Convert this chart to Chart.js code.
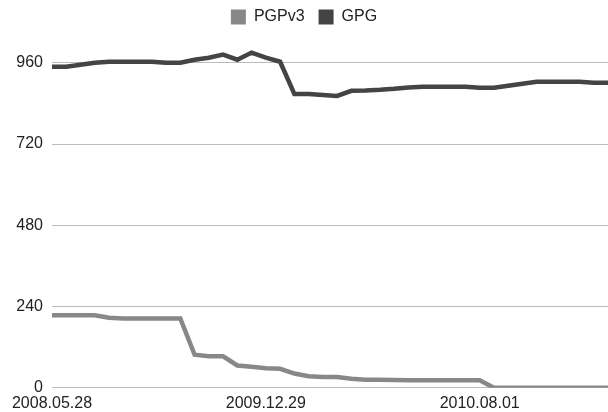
<!DOCTYPE html>
<html>
<head>
<meta charset="utf-8">
<script src="https://cdn.jsdelivr.net/npm/chart.js@4"></script>
<style>
  html, body { margin: 0; padding: 0; background: #fff; }
  #wrap { width: 608px; height: 412px; }
</style>
</head>
<body>
<div id="wrap"><canvas id="chart" width="608" height="412"></canvas></div>
<script>
// tick labels shown under the x axis, every 15th sample
const tickLabels = ['2008.05.28', '2009.12.29', '2010.08.01'];
const tickEvery = 15;
const pointCount = 40;

const pgpv3 = [214, 214, 214, 214, 207, 205, 205, 205, 205, 205,
  98, 93, 93, 66, 62, 58, 56, 42, 34, 32,
  32, 27, 24, 24, 23, 22, 22, 22, 22, 22,
  22, 0, 0, 0, 0, 0, 0, 0, 0, 0];
const gpg = [948, 948, 954, 960, 963, 963, 963, 963, 960, 960,
  969, 975, 984, 969, 990, 975, 963, 868, 868, 865,
  862, 877, 878, 880, 883, 887, 889, 889, 889, 889,
  886, 886, 892, 898, 904, 904, 904, 904, 901, 901];

const yTicks = [0, 240, 480, 720, 960];

// categories: dated ones where the chart shows a label
const categories = [];
for (let i = 0; i < pointCount; i++) {
  categories.push(i % tickEvery === 0 ? tickLabels[i / tickEvery] : '');
}

Chart.defaults.font.family = '"Liberation Sans", Arial, sans-serif';
Chart.defaults.font.size = 16;
Chart.defaults.color = '#222';

new Chart(document.getElementById('chart'), {
  type: 'line',
  data: {
    labels: categories,
    datasets: [{
      label: 'PGPv3',
      data: pgpv3,
      borderColor: '#888888',
      backgroundColor: '#888888',
      borderWidth: 4.5,
      pointRadius: 0,
      tension: 0
    }, {
      label: 'GPG',
      data: gpg,
      borderColor: '#444444',
      backgroundColor: '#444444',
      borderWidth: 4.5,
      pointRadius: 0,
      tension: 0
    }]
  },
  options: {
    responsive: false,
    animation: false,
    layout: {
      padding: { top: -5, bottom: -7, left: 0, right: 0 }
    },
    plugins: {
      tooltip: { enabled: false },
      legend: {
        position: 'top',
        labels: {
          boxWidth: 15,
          boxHeight: 15,
          padding: 14,
          color: '#222',
          generateLabels: (chart) => {
            const items = Chart.defaults.plugins.legend.labels.generateLabels(chart);
            items.forEach(it => { it.lineWidth = 0; });
            return items;
          }
        }
      }
    },
    scales: {
      x: {
        border: { display: false },
        grid: { display: false, drawTicks: false },
        ticks: {
          autoSkip: false,
          maxRotation: 0,
          padding: 6,
          color: '#222'
        },
        afterFit: (scale) => {
          scale.paddingLeft = 0;
          scale.paddingRight = 0;
        }
      },
      y: {
        min: 0,
        max: 1042,
        border: { display: false },
        grid: { color: '#bbbbbb', lineWidth: 1, drawTicks: false },
        ticks: {
          stepSize: 240,
          padding: 9,
          color: '#222'
        },
        afterBuildTicks: (scale) => {
          scale.ticks = yTicks.map(v => ({ value: v }));
        },
        afterFit: (scale) => {
          scale.width = 52;
          scale.paddingTop = 0;
          scale.paddingBottom = 0;
        }
      }
    }
  }
});
</script>
</body>
</html>
